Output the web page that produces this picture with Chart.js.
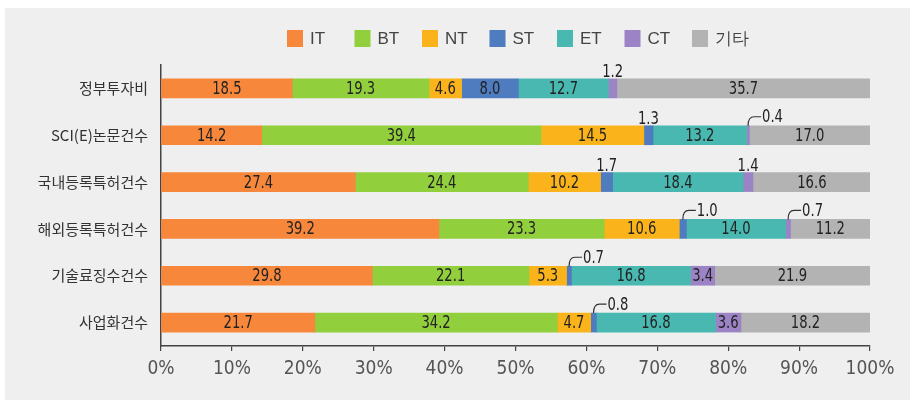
<!DOCTYPE html>
<html>
<head>
<meta charset="utf-8">
<script src="https://cdn.jsdelivr.net/npm/chart.js@4.4.0/dist/chart.umd.min.js"></script>
<style>
  body { margin: 0; background: #fff; }
  canvas { display: block; }
</style>
</head>
<body>
<canvas id="shareChart" width="921" height="412"></canvas>
<script>
const categories = ["정부투자비", "SCI(E)논문건수", "국내등록특허건수", "해외등록특허건수", "기술료징수건수", "사업화건수"];
const seriesNames = ["IT", "BT", "NT", "ST", "ET", "CT", "기타"];
const itValues = [18.5, 14.2, 27.4, 39.2, 29.8, 21.7];
const btValues = [19.3, 39.4, 24.4, 23.3, 22.1, 34.2];
const ntValues = [4.6, 14.5, 10.2, 10.6, 5.3, 4.7];
const stValues = [8.0, 1.3, 1.7, 1.0, 0.7, 0.8];
const etValues = [12.7, 13.2, 18.4, 14.0, 16.8, 16.8];
const ctValues = [1.2, 0.4, 1.4, 0.7, 3.4, 3.6];
const etcValues = [35.7, 17.0, 16.6, 11.2, 21.9, 18.2];
const xTickValues = [0, 10, 20, 30, 40, 50, 60, 70, 80, 90, 100];

const seriesValues = [itValues, btValues, ntValues, stValues, etValues, ctValues, etcValues];
const colors = ["#f7883b", "#92cf3d", "#fbb31b", "#4f7bbf", "#49b8b0", "#9c83c5", "#b3b3b3"];

const narrow = "'DejaVu Sans Condensed', 'Liberation Sans Narrow', sans-serif";

// grey panel behind the chart
const panelPlugin = {
  id: "panel",
  beforeDraw(chart) {
    const ctx = chart.ctx;
    ctx.save();
    ctx.fillStyle = "#ffffff";
    ctx.fillRect(0, 0, chart.width, chart.height);
    ctx.fillStyle = "#efefef";
    ctx.fillRect(5, 8, 905, 392);
    ctx.restore();
  },
};

// legend with even spacing like the original
const legendPlugin = {
  id: "fixedLegend",
  afterDraw(chart) {
    const ctx = chart.ctx;
    ctx.save();
    ctx.font = "17px 'Liberation Sans', sans-serif";
    ctx.textBaseline = "middle";
    ctx.textAlign = "left";
    chart.data.datasets.forEach((ds, i) => {
      const x = 287 + i * 67.5;
      ctx.fillStyle = ds.backgroundColor;
      ctx.fillRect(x, 30, 16, 17);
      ctx.fillStyle = "#444";
      ctx.fillText(ds.label, x + 23, 39);
    });
    ctx.restore();
  },
};

// squeezed text to get closer to the condensed face of the original
function narrowText(ctx, txt, x, y) {
  ctx.save();
  ctx.translate(x, y);
  ctx.scale(0.86, 1);
  ctx.fillText(txt, 0, 0);
  ctx.restore();
}

// value labels: inside the bars, or above them for thin segments
const valuePlugin = {
  id: "values",
  afterDatasetsDraw(chart) {
    const ctx = chart.ctx;
    ctx.save();
    ctx.font = "17px " + narrow;
    ctx.fillStyle = "#222";
    ctx.strokeStyle = "#333";
    ctx.lineWidth = 1.2;
    chart.data.datasets.forEach((ds, di) => {
      const meta = chart.getDatasetMeta(di);
      meta.data.forEach((bar, i) => {
        const v = ds.data[i];
        const cx = (bar.x + bar.base) / 2;
        const top = bar.y - bar.height / 2;
        const txt = v.toFixed(1);
        if (v >= 2) {
          ctx.textAlign = "center";
          ctx.textBaseline = "middle";
          narrowText(ctx, txt, cx, bar.y + 1);
        } else if (v > 1.05) {
          ctx.textAlign = "center";
          ctx.textBaseline = "alphabetic";
          narrowText(ctx, txt, cx, top - 2);
        } else {
          ctx.beginPath();
          ctx.moveTo(cx, top);
          ctx.quadraticCurveTo(cx, top - 9, cx + 6, top - 9);
          ctx.lineTo(cx + 13, top - 9);
          ctx.stroke();
          ctx.textAlign = "left";
          ctx.textBaseline = "middle";
          narrowText(ctx, txt, cx + 14, top - 8);
        }
      });
    });
    ctx.restore();
  },
};

const ctx = document.getElementById("shareChart").getContext("2d");
const shareChart = new Chart(ctx, {
  type: "bar",
  data: {
    labels: categories,
    datasets: seriesNames.map((name, i) => ({
      label: name,
      data: seriesValues[i],
      backgroundColor: colors[i],
      borderWidth: 0,
      barThickness: 19,
    })),
  },
  options: {
    indexAxis: "y",
    responsive: false,
    animation: false,
    devicePixelRatio: 1,
    layout: {
      padding: { top: 65, right: 51, bottom: 0, left: 0 },
    },
    plugins: {
      legend: { display: false },
      tooltip: { enabled: false },
    },
    scales: {
      x: {
        stacked: true,
        min: 0,
        max: 100,
        afterBuildTicks(scale) {
          scale.ticks = xTickValues.map((v) => ({ value: v }));
        },
        afterFit(scale) {
          scale.height = 66;
        },
        border: { display: true, color: "#444", width: 1.5 },
        grid: {
          drawOnChartArea: false,
          drawTicks: true,
          tickLength: 5,
          color: "#444",
          lineWidth: 1.2,
        },
        ticks: {
          autoSkip: false,
          maxRotation: 0,
          padding: 7,
          color: "#555",
          font: { family: narrow, size: 19 },
          callback: (v) => v + "%",
        },
      },
      y: {
        stacked: true,
        afterFit(scale) {
          scale.width = 161;
        },
        border: { display: true, color: "#444", width: 1.5 },
        grid: { display: false, drawTicks: false },
        ticks: {
          padding: 13,
          color: "#333",
          font: { family: "'Noto Sans CJK KR', sans-serif", size: 15 },
        },
      },
    },
  },
  plugins: [panelPlugin, legendPlugin, valuePlugin],
});
</script>
</body>
</html>
